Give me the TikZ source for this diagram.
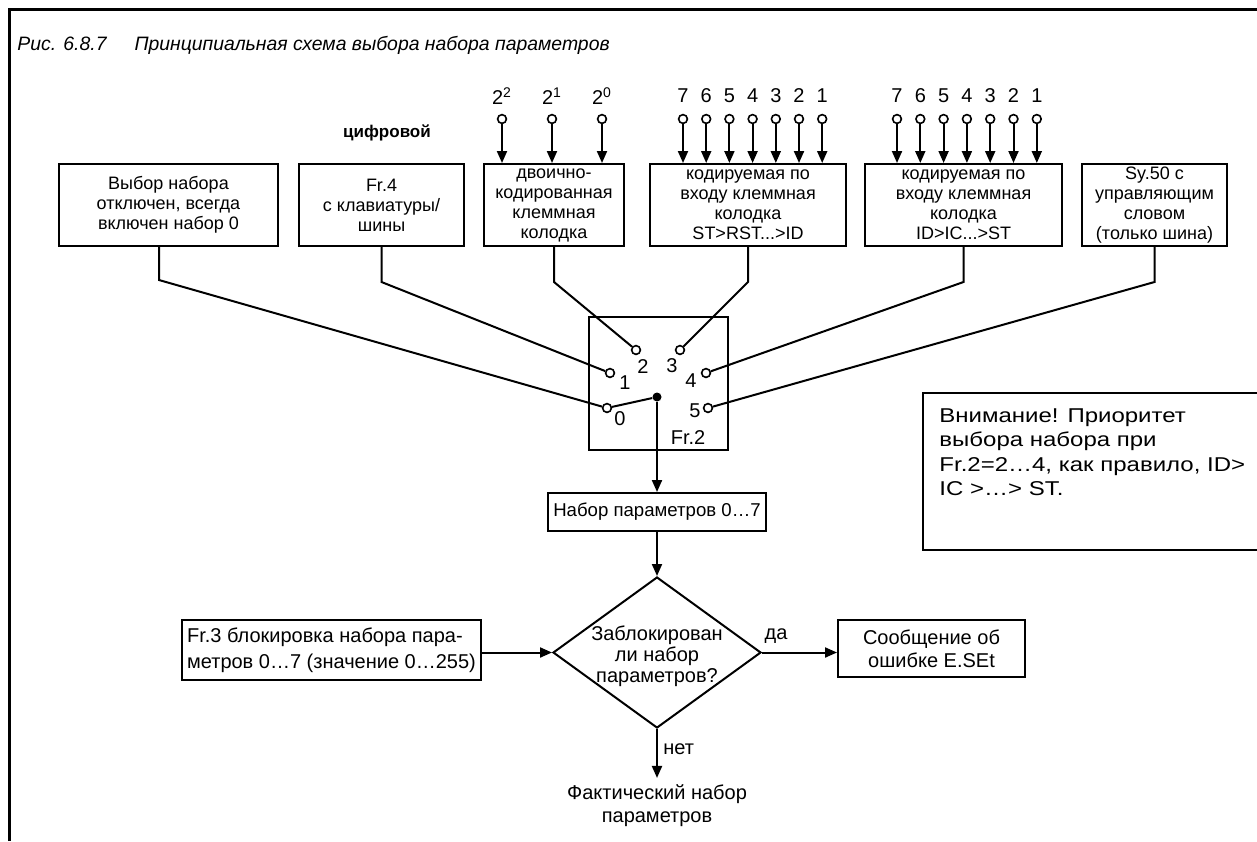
\documentclass[tikz,border=0pt]{standalone}
\usepackage{fontspec}
\setmainfont{Liberation Sans}
\newfontfamily\widefont[FakeStretch=1.2]{Liberation Sans}
\usetikzlibrary{arrows.meta,positioning,shapes.geometric,calc}

\begin{document}
\begin{tikzpicture}[
        x=0.5pt, y=-0.5pt,
        >={Triangle[length=6pt,width=5pt]},
        font=\fontsize{9}{10}\selectfont,
        box/.style={draw, line width=1pt, align=center, inner sep=1pt},
        term/.style={circle, draw, line width=0.8pt, fill=white,
            inner sep=0pt, minimum size=4.4pt},
        wire/.style={line width=1pt},
        num/.style={inner sep=0pt, font=\fontsize{10}{12}\selectfont},
        low/.style={font=\fontsize{10}{11.5}\selectfont}
    ]
    \useasboundingbox (0,0) rectangle (1257,841);
    \draw[line width=1.5pt] (9,841) -- (9,9) -- (1257,9);

    \node[anchor=west, inner sep=0pt, font=\itshape\fontsize{9.7}{11}\selectfont] (title) at (17,45)
        {Рис. 6.8.7\hspace{14pt}Принципиальная схема выбора набора параметров};
    \node[font=\bfseries\fontsize{8.5}{10}\selectfont] (dig) at (387,133) {цифровой};

    % sources
    \node[box, anchor=north west, minimum width=109.5pt, minimum height=41pt] (b1) at (58,163)
        {Выбор набора\\отключен, всегда\\включен набор 0};
    \node[box, anchor=north west, minimum width=82.5pt, minimum height=41pt] (b2) at (298,163)
        {Fr.4\\с клавиатуры/\\шины};
    \node[box, anchor=north west, minimum width=70pt, minimum height=41pt] (b3) at (483,163)
        {двоично-\\кодированная\\клеммная\\колодка};
    \node[box, anchor=north west, minimum width=98pt, minimum height=41pt] (b4) at (649,163)
        {кодируемая по\\входу клеммная\\колодка\\ST>RST...>ID};
    \node[box, anchor=north west, minimum width=98.5pt, minimum height=41pt] (b5) at (864,163)
        {кодируемая по\\входу клеммная\\колодка\\ID>IC...>ST};
    \node[box, anchor=north west, minimum width=72.5pt, minimum height=41pt] (b6) at (1081,163)
        {Sy.50 с\\управляющим\\словом\\(только шина)};

    % terminal inputs
    \foreach \e [count=\i, evaluate=\i as \x using 452+\i*50] in {2,1,0}{
        \node[term] (c\i) at (\x,119) {};
        \node[num] (cl\i) at (\x,96) {2\textsuperscript{\e}};
        \draw[wire,->] (c\i) -- (c\i |- b3.north);
    }
    \foreach \k [count=\i, evaluate=\i as \x using 659.8+\i*23.2] in {7,6,...,1}{
        \node[term] (d\i) at (\x,119) {};
        \node[num] (dl\i) at (\x,96) {\k};
        \draw[wire,->] (d\i) -- (d\i |- b4.north);
    }
    \foreach \k [count=\i, evaluate=\i as \x using 873.7+\i*23.3] in {7,6,...,1}{
        \node[term] (e\i) at (\x,119) {};
        \node[num] (el\i) at (\x,96) {\k};
        \draw[wire,->] (e\i) -- (e\i |- b5.north);
    }

    % selector Fr.2
    \node[draw, line width=1pt, anchor=north west, minimum width=69.5pt, minimum height=66.5pt] (sw) at (588,316) {};
    \foreach \n/\x/\y in {0/607/408,1/610/373,2/636/350,3/680/350,4/706/373,5/708/408}
        \node[term] (p\n) at (\x,\y) {};
    \foreach \n/\x/\y in {0/620/419,1/625/383,2/643/367,3/672/366,4/691/381,5/695/411}
        \node[num] (n\n) at (\x,\y) {\n};
    \node[num] (fr2) at (688,438) {Fr.2};
    \node[circle, fill, inner sep=0pt, minimum size=4.5pt] (pv) at (657,397) {};
    \draw[wire] (p0) -- (pv);

    \draw[wire] ([xshift=-4.75pt]b1.south) -- ++(0,33) -- (p0);
    \draw[wire] (b2.south) -- ++(0,35) -- (p1);
    \draw[wire] (b3.south) -- ++(0,35) -- (p2);
    \draw[wire] (b4.south) -- ++(0,35) -- (p3);
    \draw[wire] (b5.south) -- ++(0,35) -- (p4);
    \draw[wire] (b6.south) -- ++(0,35) -- (p5);

    % check
    \node[box, minimum width=109pt, minimum height=19pt, font=\fontsize{9.3}{11}\selectfont] (set) at (657,512)
        {Набор параметров 0…7};
    \node[draw, line width=1pt, diamond, inner sep=0pt, minimum width=104pt, minimum height=75.5pt] (dec) at (657,652.5) {};
    \node[align=center, inner sep=0pt, font=\fontsize{10}{10.5}\selectfont] (dectxt) at (657,656)
        {Заблокирован\\ли набор\\параметров?};
    \node[box, align=left, anchor=north west, minimum width=149.5pt, minimum height=30pt,
        font=\fontsize{10}{13}\selectfont] (fr3) at (181,619)
        {Fr.3 блокировка набора пара-\\метров 0…7 (значение 0…255)};
    \node[box, low, anchor=north west, minimum width=93.5pt, minimum height=28.5pt] (msg) at (837,619)
        {Сообщение об\\ошибке E.SEt};
    \node[low, align=center] (act) at (657,806) {Фактический набор\\параметров};
    \node[low] (da) at (776,636) {да};
    \node[low, anchor=west, inner sep=0pt] (net) at (663,749) {нет};

    \draw[wire,->] (pv) -- (pv |- set.north);
    \draw[wire,->] (set) -- (dec);
    \draw[wire,->] (fr3.east |- dec.west) -- (dec.west);
    \draw[wire,->] (dec.east) -- (dec.east -| msg.west);
    \draw[wire,->] (dec.south) -- (act);

    % note
    \node[draw, line width=1pt, anchor=north west, minimum width=175pt, minimum height=78.5pt] (note) at (922,392) {};
    \node[anchor=north west, align=left, inner sep=0pt, font=\widefont\fontsize{10}{12.25}\selectfont] (notetxt) at (939,408)
        {Внимание! Приоритет\\выбора набора при\\Fr.2=2…4, как правило, ID>\\IC >…> ST.};
\end{tikzpicture}
\end{document}
